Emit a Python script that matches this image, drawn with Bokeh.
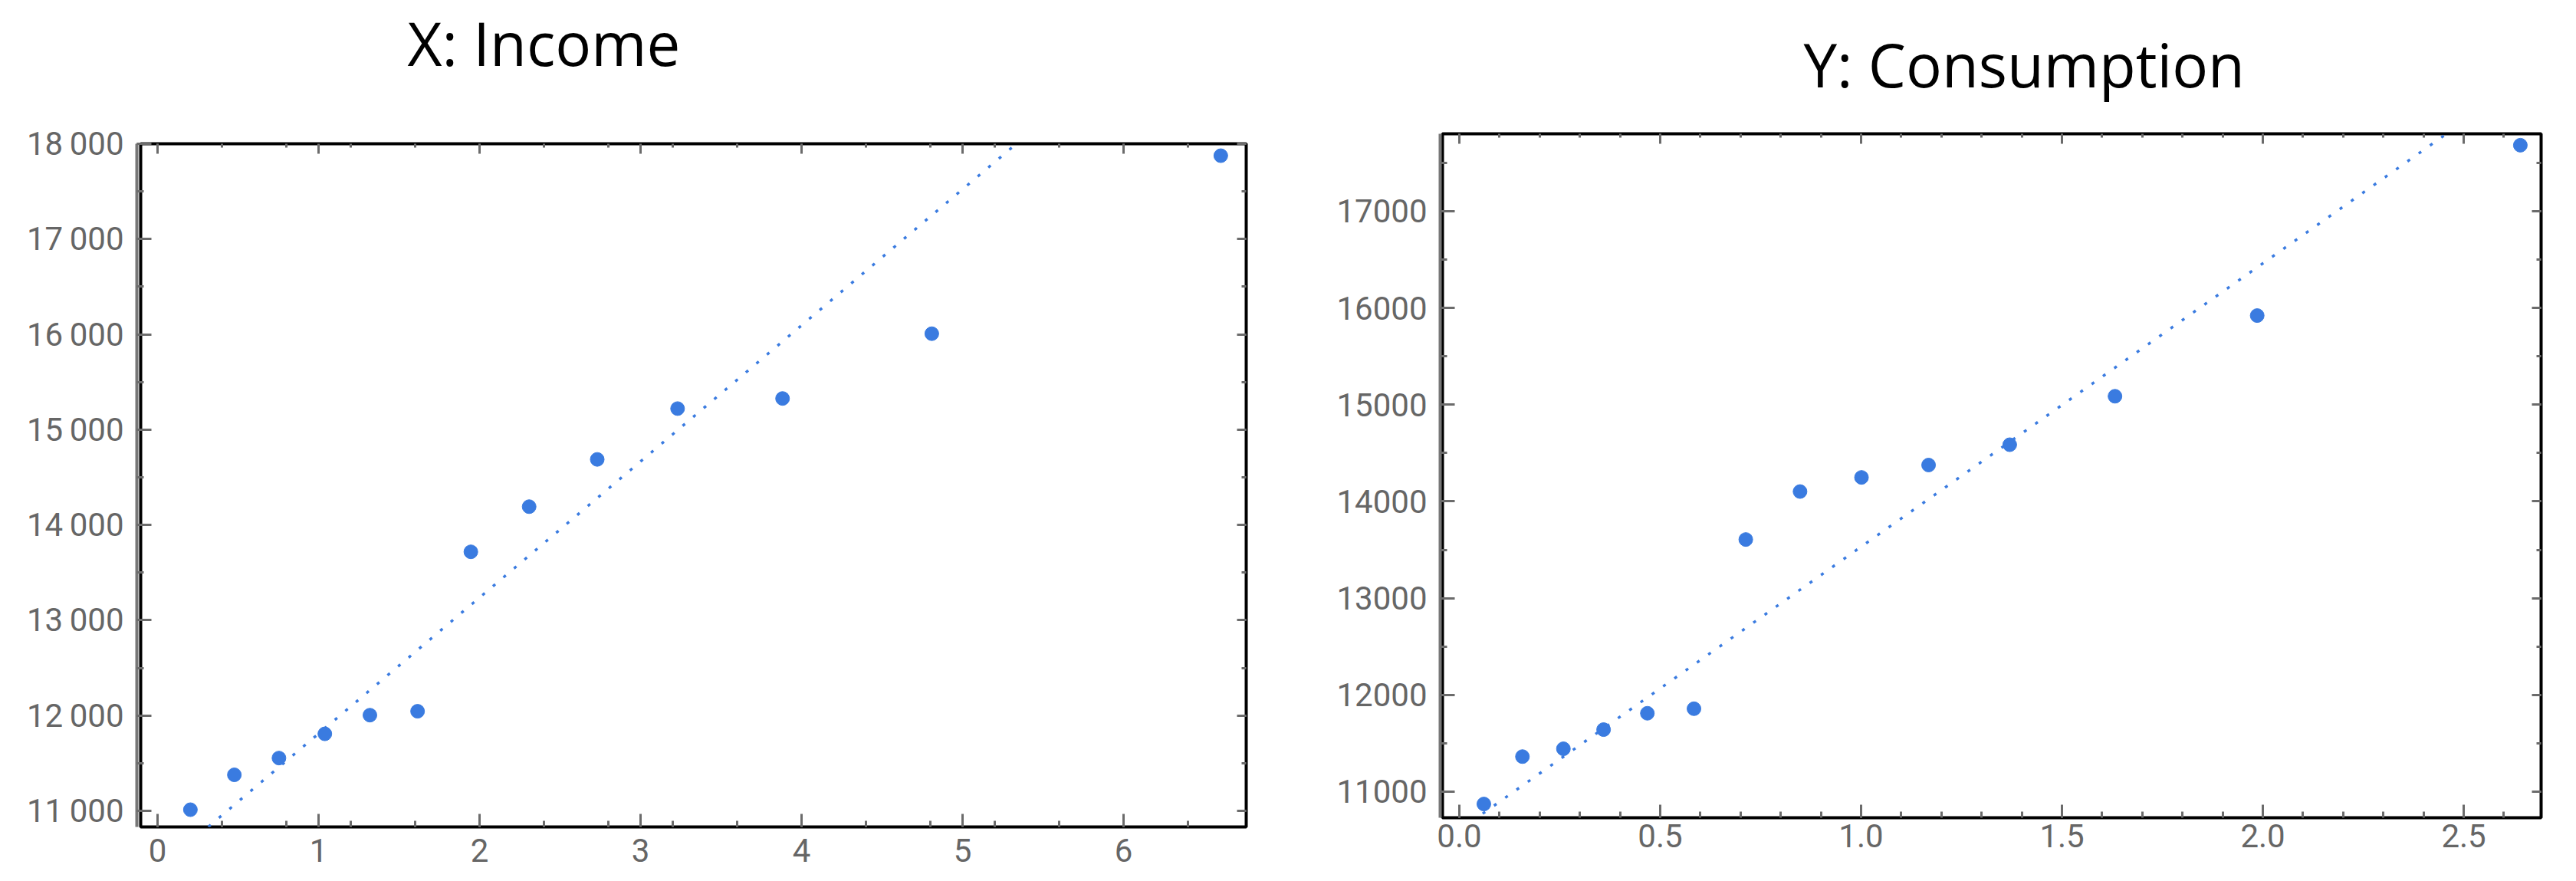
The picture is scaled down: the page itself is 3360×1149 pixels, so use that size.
from bokeh.plotting import figure
from bokeh.models import Range1d, FixedTicker, LinearAxis
from bokeh.layouts import row, column
from bokeh.embed import file_html
from bokeh.resources import INLINE

# ---------------- data ----------------
income_title = "X: Income"
income_x = [0.204, 0.477, 0.754, 1.039, 1.319, 1.615, 1.946, 2.308, 2.731, 3.230, 3.882, 4.809, 6.604]
income_y = [11012, 11378, 11554, 11808, 12004, 12045, 13718, 14192, 14688, 15221, 15327, 16007, 17875]
income_fit_x = [0.25, 5.45]
income_fit_y = [10739, 18165]
income_xticks = [0, 1, 2, 3, 4, 5, 6]
income_xlabels = ["0", "1", "2", "3", "4", "5", "6"]
income_yticks = [11000, 12000, 13000, 14000, 15000, 16000, 17000, 18000]
income_ylabels = ["11\u2009000", "12\u2009000", "13\u2009000", "14\u2009000",
                  "15\u2009000", "16\u2009000", "17\u2009000", "18\u2009000"]

cons_title = "Y: Consumption"
cons_x = [0.061, 0.157, 0.259, 0.359, 0.468, 0.584, 0.713, 0.848, 1.001, 1.168, 1.370, 1.632, 1.986, 2.641]
cons_y = [10872, 11362, 11443, 11641, 11810, 11857, 13606, 14102, 14248, 14376, 14586, 15087, 15921, 17682]
cons_fit_x = [0.03, 2.50]
cons_fit_y = [10690, 17925]
cons_xticks = [0.0, 0.5, 1.0, 1.5, 2.0, 2.5]
cons_xlabels = ["0.0", "0.5", "1.0", "1.5", "2.0", "2.5"]
cons_yticks = [11000, 12000, 13000, 14000, 15000, 16000, 17000]
cons_ylabels = ["11000", "12000", "13000", "14000", "15000", "16000", "17000"]

# ---------------- style ----------------
BLUE = "#3a7be0"
GRAY = "#6b6b6b"
LABEL_FONT = "Roboto"
LABEL_SIZE = "42px"


def style_axis(ax, ticks, minor, labels=None, tin=17, tout=0, minin=8, minout=0,
               standoff=6, line=False, tick_color=GRAY):
    ax.ticker = FixedTicker(ticks=ticks, minor_ticks=minor)
    ax.major_tick_in = tin
    ax.major_tick_out = tout
    ax.minor_tick_in = minin
    ax.minor_tick_out = minout
    ax.major_tick_line_color = tick_color
    ax.minor_tick_line_color = tick_color
    ax.major_tick_line_width = 3
    ax.minor_tick_line_width = 3
    if line:
        ax.axis_line_color = "#777777"
        ax.axis_line_width = 4
    else:
        ax.axis_line_color = None
    if labels is None:
        ax.major_label_text_color = None
        ax.major_label_text_font_size = "1px"
        ax.major_label_standoff = 0
    else:
        ax.major_label_overrides = {t: l for t, l in zip(ticks, labels)}
        ax.major_label_text_font = LABEL_FONT
        ax.major_label_text_font_size = LABEL_SIZE
        ax.major_label_text_color = "#666666"
        ax.major_label_standoff = standoff


def panel(title, xs, ys, fx, fy, xticks, xlabels, yticks, ylabels, xminor, yminor,
          xr, yr, frame, borders, gap, title_offset, title_gap, bottom_standoff):
    fw, fh = frame
    bl, br, bt, bb = borders
    p = figure(frame_width=fw, frame_height=fh, output_backend="svg", toolbar_location=None,
               x_range=Range1d(*xr), y_range=Range1d(*yr),
               min_border_left=bl, min_border_right=br, min_border_top=bt,
               min_border_bottom=bb)
    p.outline_line_color = "black"
    p.outline_line_width = 4
    p.outline_line_alpha = 1.0
    p.grid.visible = False
    p.background_fill_color = "white"
    p.border_fill_color = "white"

    p.title.text = title
    p.title.text_font = "Open Sans"
    p.title.text_font_size = "78px"
    p.title.text_font_style = "normal"
    p.title.text_color = "black"
    p.title.align = "left"
    p.title.offset = title_offset
    p.title.standoff = 0

    style_axis(p.xaxis[0], xticks, xminor, xlabels, tin=17, minin=8, standoff=bottom_standoff)
    # inner spacer axis (invisible ticks) keeps the grey axis line a few px off the frame
    style_axis(p.yaxis[0], yticks, yminor, None, tin=0, tout=gap, minin=0, minout=0,
               tick_color=None)
    outer = LinearAxis()
    style_axis(outer, yticks, yminor, ylabels, tin=19, tout=0, minin=9, minout=0,
               standoff=17, line=True)
    p.add_layout(outer, "left")
    # visible top ticks
    top = LinearAxis()
    style_axis(top, xticks, xminor, None, tin=13, minin=5)
    p.add_layout(top, "above")
    # invisible spacer between the top ticks and the title
    spacer = LinearAxis()
    style_axis(spacer, xticks, [], None, tin=0, tout=title_gap, minin=0, minout=0,
               tick_color=None)
    p.add_layout(spacer, "above")
    right = LinearAxis()
    style_axis(right, yticks, yminor, None, tin=12, minin=6)
    p.add_layout(right, "right")

    p.line(fx, fy, line_color=BLUE, line_width=3.5, line_dash="4 14")
    p.scatter(xs, ys, size=18, fill_color=BLUE, line_color=BLUE, line_width=1)
    return p


p1 = panel(income_title, income_x, income_y, income_fit_x, income_fit_y,
           income_xticks, income_xlabels, income_yticks, income_ylabels,
           [round(0.4 * i, 1) for i in range(0, 18)],
           [10500 + 500 * i for i in range(0, 17)],
           (-0.1048, 6.7619), (10831, 18000),
           (1442, 891), (183, 55, 187, 68), 5, 348, 79, 15)

p2 = panel(cons_title, cons_x, cons_y, cons_fit_x, cons_fit_y,
           cons_xticks, cons_xlabels, cons_yticks, cons_ylabels,
           [round(0.1 * i, 1) for i in range(0, 28)],
           [10500 + 500 * i for i in range(0, 16)],
           (-0.0420, 2.6927), (10730, 17800),
           (1433, 892), (201, 38, 174, 80), 3, 471, 38, 8)

layout = row(p1, column(p2))
open("out.html", "w").write(file_html(layout, INLINE))
